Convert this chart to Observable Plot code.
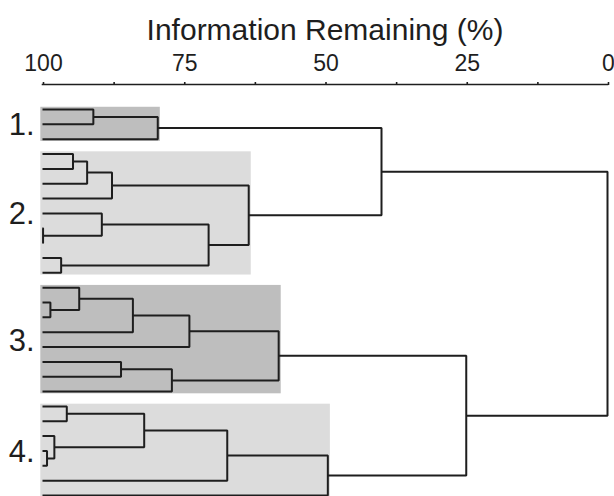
<!DOCTYPE html>
<html>
<head>
<meta charset="utf-8">
<script src="https://cdn.jsdelivr.net/npm/d3@7"></script>
<script src="https://cdn.jsdelivr.net/npm/@observablehq/plot@0.6"></script>
<style>
  body { margin: 0; background: #fff; }
  #chart svg { display: block; }
</style>
</head>
<body>
<div id="chart"></div>
<script>
// Hierarchical clustering of 27 items; leaves 0..26 are listed top to bottom.
const leafCount = 27;

// Linkage table: row k joins nodes linkA[k] and linkB[k] at linkHeight[k]
// (information remaining, %). Ids below leafCount are leaves; id leafCount+k is row k.
const linkA      = [ 0, 27,   3, 29, 30,  8,  7, 10, 33, 31,  13, 12, 38, 39, 17, 41, 40,  20, 23, 22, 44, 47, 48,  28, 43, 50];
const linkB      = [ 1,  2,   4,  5,  6,  9, 32, 11, 34, 35,  14, 37, 15, 16, 18, 19, 42,  21, 24, 45, 46, 25, 26,  36, 49, 51];
const linkHeight = [91.0, 79.6, 94.6, 92.1, 87.7, 99.9, 89.5, 96.7, 70.6, 63.5,
                    98.6, 93.5, 84.0, 74.0, 86.1, 77.1, 58.2,
                    95.7, 99.2, 97.9, 82.0, 67.3, 49.5,
                    40.0, 25.0, 0.0];

// Highlighted clusters
const clusterLabels = ["1.", "2.", "3.", "4."];
const clusterFirst  = [0, 3, 12, 20];
const clusterLast   = [2, 11, 19, 26];

// Axis
const axisTitle  = "Information Remaining (%)";
const tickValues = [100, 87.5, 75, 62.5, 50, 37.5, 25, 12.5, 0];
const tickLabels = [100, 75, 50, 25, 0];

// ---- layout of the tree: height on x, leaf order on y ----
const nodeX = [], nodeY = [], nodeMin = [], nodeMax = [];
for (let i = 0; i < leafCount; i++) { nodeX[i] = 100; nodeY[i] = i; nodeMin[i] = i; nodeMax[i] = i; }
linkHeight.forEach((h, k) => {
  const a = linkA[k], b = linkB[k], id = leafCount + k;
  nodeX[id] = h;
  nodeY[id] = (nodeY[a] + nodeY[b]) / 2;
  nodeMin[id] = Math.min(nodeMin[a], nodeMin[b]);
  nodeMax[id] = Math.max(nodeMax[a], nodeMax[b]);
});

// Each join is drawn as an open bracket: child A -> join height -> child B
const elbows = [];
linkHeight.forEach((h, k) => {
  const a = linkA[k], b = linkB[k];
  elbows.push({k, x: nodeX[a], y: nodeY[a]});
  elbows.push({k, x: h,        y: nodeY[a]});
  elbows.push({k, x: h,        y: nodeY[b]});
  elbows.push({k, x: nodeX[b], y: nodeY[b]});
});

// Shaded boxes reach just short of each cluster's own root join
const boxPadY = 0.15, boxPadX = 0.45, boxLeft = 100.3;
const shades = ["#bebebe", "#dcdcdc"];
const clusters = clusterLabels.map((label, c) => {
  const inside = linkHeight
    .map((h, k) => ({h, id: leafCount + k}))
    .filter(({id}) => nodeMin[id] >= clusterFirst[c] && nodeMax[id] <= clusterLast[c]);
  const rootHeight = d3.min(inside, d => d.h);
  return {
    label,
    x1: boxLeft,
    x2: rootHeight - boxPadX,
    y1: clusterFirst[c] - boxPadY,
    y2: clusterLast[c] + boxPadY,
    yMid: (clusterFirst[c] + clusterLast[c]) / 2,
    fill: shades[c % 2]
  };
});

const chart = Plot.plot({
  width: 614,
  height: 496,
  marginTop: 84,
  marginLeft: 42,
  marginRight: 7,
  marginBottom: 1,
  style: { fontFamily: "'Liberation Sans', Arial, sans-serif", color: "#1e1e1e", background: "#fff" },
  x: { domain: [100, 0] },
  y: { domain: [-1.684, leafCount - 1], reverse: true, axis: null },
  marks: [
    Plot.rect(clusters, { x1: "x1", x2: "x2", y1: "y1", y2: "y2", fill: "fill" }),
    Plot.line(elbows, { x: "x", y: "y", z: "k", stroke: "#1e1e1e", strokeWidth: 2, strokeLinejoin: "miter", strokeLinecap: "butt" }),
    Plot.frame({ anchor: "top", stroke: "#1e1e1e", strokeWidth: 1.6 }),
    Plot.axisX({
      anchor: "top",
      ticks: tickValues,
      tickSize: 3,
      tickPadding: 11,
      tickFormat: d => tickLabels.includes(d) ? String(d) : "",
      fontSize: 23,
      dx: 1,
      label: null,
      stroke: "#1e1e1e",
      strokeWidth: 1.6
    }),
    Plot.text([axisTitle], { text: d => d, frameAnchor: "top", lineAnchor: "bottom", dy: -45, fontSize: 30, fill: "#1e1e1e" }),
    Plot.text(clusters, { y: "yMid", text: "label", frameAnchor: "left", textAnchor: "end", dx: -8, dy: 1, fontSize: 31, fill: "#1e1e1e" })
  ]
});

document.getElementById("chart").append(chart);
</script>
</body>
</html>
